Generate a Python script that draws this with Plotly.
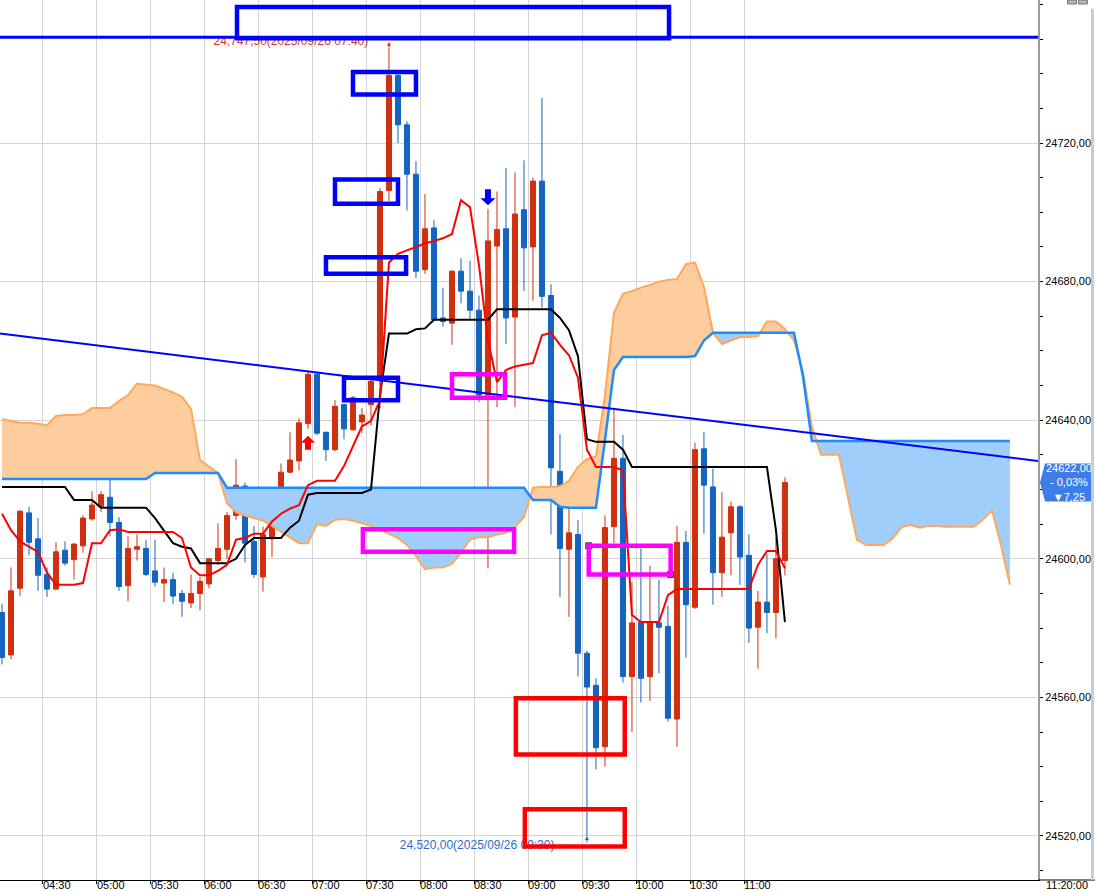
import numpy as np
import pandas as pd
import plotly.graph_objects as go

DAY = "2025-09-26"
FIRST_BAR = "04:05"
BAR_MIN = 5

opens = [24584.50, 24572.25, 24591.50, 24613.25, 24605.75, 24595.50, 24591.25, 24602.50, 24599.75, 24603.75,
         24611.50, 24615.00, 24617.75, 24610.50, 24592.25, 24602.75, 24603.00, 24596.50, 24593.00, 24594.00,
         24590.00, 24587.25, 24590.00, 24592.75, 24599.50, 24602.75, 24612.50, 24621.00, 24605.00, 24594.75,
         24605.75, 24619.00, 24625.00, 24628.25, 24639.00, 24653.25, 24636.50, 24631.50, 24644.50, 24637.25,
         24639.50, 24644.50, 24651.50, 24706.25, 24739.50, 24725.25, 24711.00, 24683.50, 24695.50, 24669.50,
         24668.00, 24683.00, 24677.25, 24671.75, 24647.25, 24690.25, 24695.25, 24669.75, 24700.75, 24690.00,
         24709.00, 24676.00, 24625.25, 24602.75, 24607.00, 24572.75, 24563.50, 24545.75, 24609.25, 24629.00,
         24566.00, 24581.75, 24566.00, 24581.50, 24580.50, 24553.75, 24604.75, 24586.00, 24631.75, 24620.75,
         24596.00, 24607.50, 24615.00, 24601.00, 24580.25, 24587.50, 24584.50, 24599.50]
highs = [24587.00, 24597.50, 24614.00, 24615.00, 24611.75, 24597.50, 24604.75, 24605.00, 24604.50, 24612.50,
         24619.50, 24619.50, 24628.00, 24612.00, 24606.50, 24607.00, 24605.50, 24605.50, 24597.50, 24596.00,
         24591.00, 24595.50, 24594.75, 24600.25, 24610.25, 24613.50, 24628.75, 24622.00, 24609.50, 24609.25,
         24620.00, 24627.50, 24636.50, 24640.50, 24654.50, 24653.75, 24636.75, 24645.75, 24644.75, 24647.00,
         24643.50, 24652.25, 24707.00, 24747.50, 24740.00, 24726.25, 24714.75, 24705.25, 24697.75, 24678.25,
         24683.25, 24686.75, 24686.00, 24676.00, 24701.00, 24706.00, 24712.75, 24711.50, 24715.00, 24710.00,
         24733.00, 24679.25, 24636.00, 24614.75, 24611.25, 24573.50, 24565.50, 24612.50, 24643.25, 24635.75,
         24593.25, 24603.00, 24598.00, 24594.00, 24586.50, 24609.50, 24608.00, 24633.50, 24636.50, 24626.00,
         24619.25, 24616.50, 24615.50, 24607.00, 24590.75, 24601.50, 24606.25, 24623.50]
lows = [24569.50, 24571.00, 24589.25, 24601.00, 24590.75, 24589.00, 24591.00, 24598.00, 24594.00, 24601.75,
        24611.00, 24613.50, 24606.50, 24590.75, 24587.75, 24599.50, 24595.00, 24592.00, 24587.50, 24587.00,
        24583.25, 24585.75, 24585.25, 24591.50, 24598.25, 24600.00, 24611.25, 24599.00, 24594.50, 24590.50,
        24600.50, 24615.00, 24624.75, 24625.50, 24637.50, 24635.75, 24628.25, 24631.00, 24634.50, 24637.00,
        24636.25, 24638.50, 24643.50, 24703.25, 24720.00, 24700.50, 24681.00, 24682.25, 24668.75, 24667.00,
        24661.75, 24673.75, 24669.00, 24645.25, 24597.25, 24643.75, 24662.00, 24643.75, 24677.25, 24674.50,
        24672.50, 24607.00, 24589.00, 24583.25, 24566.00, 24520.00, 24539.25, 24540.00, 24604.50, 24564.25,
        24550.00, 24558.50, 24559.00, 24567.00, 24553.00, 24545.75, 24571.50, 24585.50, 24607.25, 24586.75,
        24589.00, 24595.25, 24592.50, 24575.75, 24568.25, 24578.50, 24577.00, 24595.25]
closes = [24571.50, 24590.75, 24613.75, 24604.75, 24595.25, 24591.25, 24602.00, 24598.75, 24604.25, 24611.75,
          24615.50, 24618.50, 24610.50, 24592.00, 24603.00, 24603.50, 24595.50, 24593.25, 24594.00, 24589.25,
          24587.75, 24590.00, 24593.50, 24600.00, 24603.00, 24612.50, 24621.25, 24604.50, 24595.50, 24607.00,
          24618.75, 24625.00, 24628.50, 24639.25, 24653.25, 24636.25, 24631.50, 24644.00, 24637.50, 24646.50,
          24641.50, 24651.25, 24706.00, 24739.50, 24725.25, 24711.00, 24683.00, 24695.25, 24669.00, 24668.50,
          24683.00, 24677.25, 24671.75, 24647.25, 24691.75, 24695.00, 24669.50, 24699.50, 24689.75, 24709.00,
          24675.75, 24626.25, 24603.00, 24607.50, 24572.75, 24563.00, 24545.50, 24609.00, 24629.00, 24566.00,
          24581.50, 24565.50, 24581.50, 24580.25, 24554.00, 24604.75, 24586.75, 24631.50, 24621.25, 24596.00,
          24606.25, 24615.00, 24600.50, 24580.00, 24587.50, 24584.50, 24600.00, 24622.00]

# conversion line (red) and base line (black)
tenkan = [24613.0, 24608.25, 24605.0, 24603.5, 24602.0, 24596.0, 24592.5, 24592.5, 24592.5, 24593.0,
          24604.5, 24604.5, 24608.25, 24608.5, 24607.75, 24607.75, 24607.75, 24607.75, 24607.75, 24607.75,
          24606.0, 24597.5, 24595.25, 24595.25, 24596.5, 24598.25, 24605.5, 24606.0, 24607.25, 24607.25,
          24610.75, 24613.0, 24614.5, 24615.5, 24621.25, 24622.5, 24622.5, 24622.5, 24626.75, 24632.75,
          24638.25, 24639.75, 24645.75, 24685.5, 24688.0, 24689.0, 24690.0, 24691.0, 24691.75, 24692.5,
          24693.75, 24703.5, 24701.5, 24684.75, 24663.0, 24651.0, 24654.5, 24655.5, 24656.0, 24656.5,
          24664.5, 24665.25, 24661.75, 24658.75, 24652.25, 24631.5, 24626.5, 24626.5, 24626.5, 24625.5,
          24583.75, 24581.75, 24581.75, 24581.75, 24589.5, 24591.25, 24591.25, 24591.25, 24591.25, 24591.25,
          24591.25, 24591.25, 24591.25, 24591.25, 24598.25, 24602.25, 24602.25, 24597.25]
kijun = [24620.75, 24620.75, 24620.75, 24620.75, 24620.75, 24620.75, 24620.75, 24620.75, 24617.0, 24617.0,
         24617.0, 24614.75, 24614.75, 24614.75, 24614.75, 24614.75, 24614.75, 24611.75, 24608.25, 24604.5,
         24603.5, 24603.0, 24598.75, 24598.75, 24598.75, 24598.75, 24600.0, 24604.0, 24606.0, 24606.0,
         24606.0, 24606.0, 24609.0, 24611.0, 24618.5, 24619.0, 24619.0, 24619.0, 24619.0, 24619.0,
         24619.0, 24620.0, 24647.25, 24665.0, 24665.0, 24665.0, 24666.25, 24666.5, 24669.0, 24669.0,
         24669.0, 24669.0, 24669.0, 24669.0, 24669.0, 24672.0, 24672.0, 24672.0, 24672.0, 24672.0,
         24672.0, 24672.0, 24669.5, 24666.0, 24658.5, 24634.5, 24633.75, 24633.75, 24633.75, 24631.5,
         24626.5, 24626.5, 24626.5, 24626.5, 24626.5, 24626.5, 24626.5, 24626.5, 24626.5, 24626.5,
         24626.5, 24626.5, 24626.5, 24626.5, 24626.5, 24626.5, 24608.25, 24581.75]

# leading spans (cloud), plotted 25 bars ahead of the last bar
span_orange = [24640.25, 24639.75, 24639.25, 24639.25, 24639.0, 24638.5, 24641.25, 24641.5, 24641.5, 24641.75,
               24643.5, 24643.5, 24643.5, 24645.5, 24647.25, 24650.5, 24650.25, 24650.0, 24649.0, 24648.0,
               24646.75, 24643.25, 24628.5, 24626.75, 24624.75, 24616.0, 24613.5, 24612.5, 24611.75, 24611.0,
               24609.5, 24607.75, 24606.0, 24604.5, 24604.5, 24610.0, 24609.5, 24611.25, 24611.5, 24611.0,
               24610.25, 24609.5, 24608.5, 24607.25, 24606.0, 24604.0, 24600.75, 24597.0, 24597.5, 24597.5,
               24598.5, 24601.75, 24605.5, 24606.25, 24606.25, 24607.0, 24607.5, 24609.25, 24612.0, 24620.5,
               24620.75, 24620.75, 24621.0, 24622.5, 24626.5, 24628.75, 24629.5, 24647.25, 24671.0, 24676.5,
               24677.25, 24678.25, 24679.0, 24680.0, 24680.5, 24680.75, 24685.0, 24685.5, 24678.5, 24665.25,
               24662.0, 24663.0, 24664.0, 24664.0, 24664.25, 24668.5, 24668.5, 24666.25, 24663.0, 24654.0,
               24638.0, 24630.0, 24630.0, 24630.0, 24617.75, 24605.5, 24604.0, 24604.0, 24604.0, 24606.0,
               24609.25, 24609.75, 24609.0, 24609.5, 24609.5, 24609.25, 24609.25, 24609.25, 24609.25, 24611.25,
               24614.0, 24604.0, 24592.5]
span_blue = [24623.0, 24623.0, 24623.0, 24623.0, 24623.0, 24623.0, 24623.0, 24623.0, 24623.0, 24623.0,
             24623.0, 24623.0, 24623.0, 24623.0, 24623.0, 24623.0, 24623.0, 24624.75, 24624.75, 24624.75,
             24624.75, 24624.75, 24624.75, 24624.75, 24624.75, 24620.5, 24620.5, 24620.5, 24620.5, 24620.5,
             24620.5, 24620.5, 24620.5, 24620.5, 24620.5, 24620.5, 24620.5, 24620.5, 24620.5, 24620.5,
             24620.5, 24620.5, 24620.5, 24620.5, 24620.5, 24620.5, 24620.5, 24620.5, 24620.5, 24620.5,
             24620.5, 24620.5, 24620.5, 24620.5, 24620.5, 24620.5, 24620.5, 24620.5, 24620.5, 24617.0,
             24617.0, 24617.0, 24615.0, 24614.75, 24614.75, 24614.75, 24614.75, 24634.25, 24654.5, 24658.25,
             24658.25, 24658.25, 24658.25, 24658.25, 24658.25, 24658.25, 24658.25, 24658.5, 24663.0, 24665.25,
             24665.25, 24665.25, 24665.25, 24665.25, 24665.25, 24665.25, 24665.25, 24665.25, 24665.25, 24652.75,
             24634.0, 24634.0, 24634.0, 24634.0, 24634.0, 24634.0, 24634.0, 24634.0, 24634.0, 24634.0,
             24634.0, 24634.0, 24634.0, 24634.0, 24634.0, 24634.0, 24634.0, 24634.0, 24634.0, 24634.0,
             24634.0, 24634.0, 24634.0]

PREV_CLOSE = 24629.25
x_tick_labels = ["04:30", "05:00", "05:30", "06:00", "06:30", "07:00", "07:30",
                 "08:00", "08:30", "09:00", "09:30", "10:00", "10:30", "11:00"]
y_tick_values = [24520, 24560, 24600, 24640, 24680, 24720]

# user drawings: (start, end, top price, bottom price, colour)
rectangles = [
    ("06:18:04", "10:18:06", 24759.25, 24750.25, "#0000FF"),
    ("07:22:30", "07:57:30", 24740.50, 24734.00, "#0000FF"),
    ("07:12:30", "07:47:30", 24709.50, 24702.50, "#0000FF"),
    ("07:07:30", "07:52:00", 24687.00, 24682.25, "#0000FF"),
    ("07:17:30", "07:47:30", 24652.25, 24645.75, "#0000FF"),
    ("08:17:30", "08:47:00", 24653.25, 24646.50, "#FF00FF"),
    ("07:28:00", "08:52:00", 24608.50, 24602.00, "#FF00FF"),
    ("09:33:30", "10:19:00", 24603.75, 24595.50, "#FF00FF"),
    ("08:53:00", "09:53:30", 24559.75, 24543.50, "#FF0000"),
    ("08:58:00", "09:53:30", 24527.75, 24517.00, "#FF0000"),
]
SELECTED_RECT = 7
H_LINE = 24750.5
TREND = [("04:06:23", 24665.0), ("13:43:06", 24628.25)]
SIGNALS = [("buy", 34, 24635.5), ("sell", 54, 24702.0)]

X_RANGE = [f"{DAY} 04:06:23", f"{DAY} 13:43:06"]
Y_RANGE = [24507.3, 24761.27]
W, H = 1095, 891
M_L, M_R, M_T, M_B = 0, 57, 0, 11
PLOT_H = H - M_T - M_B
PX = (Y_RANGE[1] - Y_RANGE[0]) / PLOT_H   # price per pixel

RED, BLUE = "#D0300F", "#1464C0"
FONT = "Liberation Sans, Arial, sans-serif"

n = len(opens)
for arr in (highs, lows, closes, tenkan, kijun):
    assert len(arr) == n
assert len(span_orange) == len(span_blue)

t0 = pd.Timestamp(f"{DAY} {FIRST_BAR}")


def bar_x(i):
    i = np.asarray(i, dtype=float)
    return t0 + pd.to_timedelta(i * BAR_MIN + BAR_MIN / 2, unit="min")


def fmt(v):
    return f"{v:.2f}".replace(".", ",")


def fmt_th(v):
    return f"{v:,.2f}".replace(".", ",")


xc = bar_x(np.arange(n))
fig = go.Figure()

# ---- cloud fill (with exact crossing points inserted) ----
a = np.array(span_orange)
b = np.array(span_blue)
idx = np.arange(len(a), dtype=float)
xs, av, bv = [idx[0]], [a[0]], [b[0]]
for i in range(1, len(idx)):
    d0, d1 = a[i - 1] - b[i - 1], a[i] - b[i]
    if d0 * d1 < 0:
        t = d0 / (d0 - d1)
        xx = idx[i - 1] + t
        yy = a[i - 1] + t * (a[i] - a[i - 1])
        xs.append(xx); av.append(yy); bv.append(yy)
    xs.append(idx[i]); av.append(a[i]); bv.append(b[i])
xs, av, bv = np.array(xs), np.array(av), np.array(bv)
top = np.maximum(av, bv)
xf = bar_x(xs)
for base, fillc in ((bv, "#FDCD9E"), (av, "#A0CEFA")):
    fig.add_trace(go.Scatter(x=xf, y=base, mode="lines", line=dict(width=0),
                             hoverinfo="skip", showlegend=False))
    fig.add_trace(go.Scatter(x=xf, y=top, mode="lines", line=dict(width=0),
                             fill="tonexty", fillcolor=fillc, hoverinfo="skip", showlegend=False))

xcl = bar_x(idx)
fig.add_trace(go.Scatter(x=xcl, y=span_orange, mode="lines", line=dict(color="#FFA85C", width=2),
                         hoverinfo="skip", showlegend=False))
fig.add_trace(go.Scatter(x=xcl, y=span_blue, mode="lines", line=dict(color="#1E8CFF", width=2.5),
                         hoverinfo="skip", showlegend=False))

# ---- candles ----
fig.add_trace(go.Candlestick(
    x=xc, open=opens, high=highs, low=lows, close=closes,
    increasing=dict(line=dict(color=RED, width=1), fillcolor=RED),
    decreasing=dict(line=dict(color=BLUE, width=1), fillcolor=BLUE),
    whiskerwidth=0, hoverinfo="skip", showlegend=False))

fig.add_trace(go.Scatter(x=xc, y=kijun, mode="lines", line=dict(color="black", width=2),
                         hoverinfo="skip", showlegend=False))
fig.add_trace(go.Scatter(x=xc, y=tenkan, mode="lines", line=dict(color="#FF0000", width=2),
                         hoverinfo="skip", showlegend=False))

# ---- high / low labels (as traces so drawings cover them) ----
hi_i = int(np.argmax(highs))
lo_i = int(np.argmin(lows))
hi_txt = f"{fmt_th(highs[hi_i])}({xc[hi_i] - pd.Timedelta(minutes=BAR_MIN/2):%Y/%m/%d %H:%M})"
lo_txt = f"{fmt_th(lows[lo_i])}({xc[lo_i] - pd.Timedelta(minutes=BAR_MIN/2):%Y/%m/%d %H:%M})"
fig.add_trace(go.Scatter(x=[xc[hi_i] - pd.Timedelta(minutes=11.5)], y=[highs[hi_i] + 6 * PX],
                         mode="text", text=[hi_txt], textposition="middle left",
                         textfont=dict(family=FONT, size=12, color="#D8391B"),
                         hoverinfo="skip", showlegend=False))
fig.add_trace(go.Scatter(x=[xc[lo_i] - pd.Timedelta(minutes=18)], y=[lows[lo_i] - 10 * PX],
                         mode="text", text=[lo_txt], textposition="middle left",
                         textfont=dict(family=FONT, size=12, color="#2A6ED2"),
                         hoverinfo="skip", showlegend=False))

# selected-rectangle handles
r = rectangles[SELECTED_RECT]
fig.add_trace(go.Scatter(x=[f"{DAY} {r[0]}", f"{DAY} {r[1]}"], y=[r[2], r[3]], mode="markers",
                         marker=dict(symbol="square", size=6, color="#8C8C8C",
                                     line=dict(color="#333333", width=1)),
                         hoverinfo="skip", showlegend=False))

shapes = []
shapes.append(dict(type="line", xref="paper", yref="y", x0=0, x1=1, y0=H_LINE, y1=H_LINE,
                   line=dict(color="#0000FF", width=3)))
shapes.append(dict(type="line", xref="x", yref="y",
                   x0=f"{DAY} {TREND[0][0]}", y0=TREND[0][1], x1=f"{DAY} {TREND[1][0]}", y1=TREND[1][1],
                   line=dict(color="#0000FF", width=2)))
for (s, e, ptop, pbot, col) in rectangles:
    shapes.append(dict(type="rect", xref="x", yref="y", x0=f"{DAY} {s}", x1=f"{DAY} {e}",
                       y0=pbot, y1=ptop, line=dict(color=col, width=4.5), fillcolor="rgba(0,0,0,0)"))
for kind, i, price in SIGNALS:
    if kind == "buy":
        path = "M 0 0 L 7 -7 L 3 -7 L 3 -14 L -3 -14 L -3 -7 L -7 -7 Z"
        col = "#FF0000"
    else:
        path = "M 0 0 L 7.5 7 L 3 7 L 3 16 L -3 16 L -3 7 L -7.5 7 Z"
        col = "#0000FF"
    shapes.append(dict(type="path", xref="x", yref="y", xsizemode="pixel", ysizemode="pixel",
                       xanchor=str(bar_x(i)), yanchor=price, path=path, fillcolor=col,
                       line=dict(width=0)))

# current-price box on the axis
last = closes[-1]
shapes.append(dict(type="path", xref="paper", yref="y", xsizemode="pixel", ysizemode="pixel",
                   xanchor=1.0, yanchor=last,
                   path="M 2 0 L 7 19 L 54 19 L 54 -19 L 7 -19 Z",
                   fillcolor="#3D7DE6", line=dict(width=0)))
# frame lines outside the plot
shapes.append(dict(type="line", xref="paper", yref="paper", x0=1.0, x1=1.055, y0=0, y1=0,
                   line=dict(color="black", width=1)))
shapes.append(dict(type="line", xref="paper", yref="paper", x0=1.0525, x1=1.0525, y0=0, y1=0.99,
                   line=dict(color="#C8CCD2", width=3)))
# small window buttons at the top-right corner
for bx0, bx1 in ((1.0285, 1.0370), (1.0390, 1.0475)):
    shapes.append(dict(type="rect", xref="paper", yref="paper", x0=bx0, x1=bx1, y0=0.9955, y1=1.0,
                       fillcolor="#B8B8B8", line=dict(color="#707070", width=1)))

chg = last - PREV_CLOSE
pct = chg / PREV_CLOSE * 100
price_txt = f"{fmt(last)}<br>- {fmt(abs(pct))}%<br>▼{fmt(abs(chg))}"

annotations = [
    dict(xref="paper", yref="y", x=1.0, y=last, xanchor="left", yanchor="middle", xshift=6,
         text=price_txt, showarrow=False, align="center",
         font=dict(family=FONT, size=11, color="white")),
    dict(xref="paper", yref="paper", x=1.0, y=0, xanchor="left", yanchor="top", xshift=6, yshift=3,
         text=f"{xc[-1] - pd.Timedelta(minutes=BAR_MIN/2):%H:%M:%S}", showarrow=False,
         font=dict(family=FONT, size=11, color="black")),
    dict(x=xc[hi_i], y=highs[hi_i], xref="x", yref="y", text="", showarrow=True,
         ax=0, ay=-7, arrowhead=2, arrowsize=0.8, arrowwidth=1, arrowcolor="#D8391B", standoff=0),
    dict(x=xc[lo_i], y=lows[lo_i], xref="x", yref="y", text="", showarrow=True,
         ax=0, ay=8, arrowhead=2, arrowsize=0.8, arrowwidth=1, arrowcolor="#2A6ED2", standoff=0),
]
# time-axis labels, left-aligned on their grid lines
for t in x_tick_labels:
    annotations.append(dict(xref="x", yref="paper", x=f"{DAY} {t}", y=0, xanchor="left",
                            yanchor="top", xshift=-2, yshift=3, text=t, showarrow=False,
                            font=dict(family=FONT, size=11, color="black")))

fig.update_layout(
    width=W, height=H, margin=dict(l=M_L, r=M_R, t=M_T, b=M_B),
    paper_bgcolor="white", plot_bgcolor="white", showlegend=False,
    hovermode=False, boxgap=0.2, shapes=shapes, annotations=annotations,
)
fig.update_xaxes(
    type="date", range=X_RANGE,
    tickvals=[f"{DAY} {t}" for t in x_tick_labels], ticktext=x_tick_labels,
    showticklabels=False,
    showgrid=True, gridcolor="#D4D4D4", gridwidth=1, zeroline=False,
    showline=True, linecolor="black", linewidth=1,
    ticks="outside", ticklen=3, tickcolor="black",
    rangeslider=dict(visible=False), fixedrange=True,
)
fig.update_yaxes(
    side="right", range=Y_RANGE,
    tickvals=y_tick_values, ticktext=[fmt(v) for v in y_tick_values],
    showgrid=True, gridcolor="#D4D4D4", gridwidth=1, zeroline=False,
    showline=True, linecolor="#9A9A9A", linewidth=2,
    ticks="outside", ticklen=3, tickcolor="black",
    minor=dict(tickmode="linear", tick0=24520, dtick=10, ticks="outside", ticklen=3,
               tickcolor="black", showgrid=False),
    tickfont=dict(family=FONT, size=11, color="black"), fixedrange=True,
)

fig.write_html("out.html", config={"displayModeBar": False},
               post_script="document.body.style.margin='0';document.body.style.overflow='hidden';")
